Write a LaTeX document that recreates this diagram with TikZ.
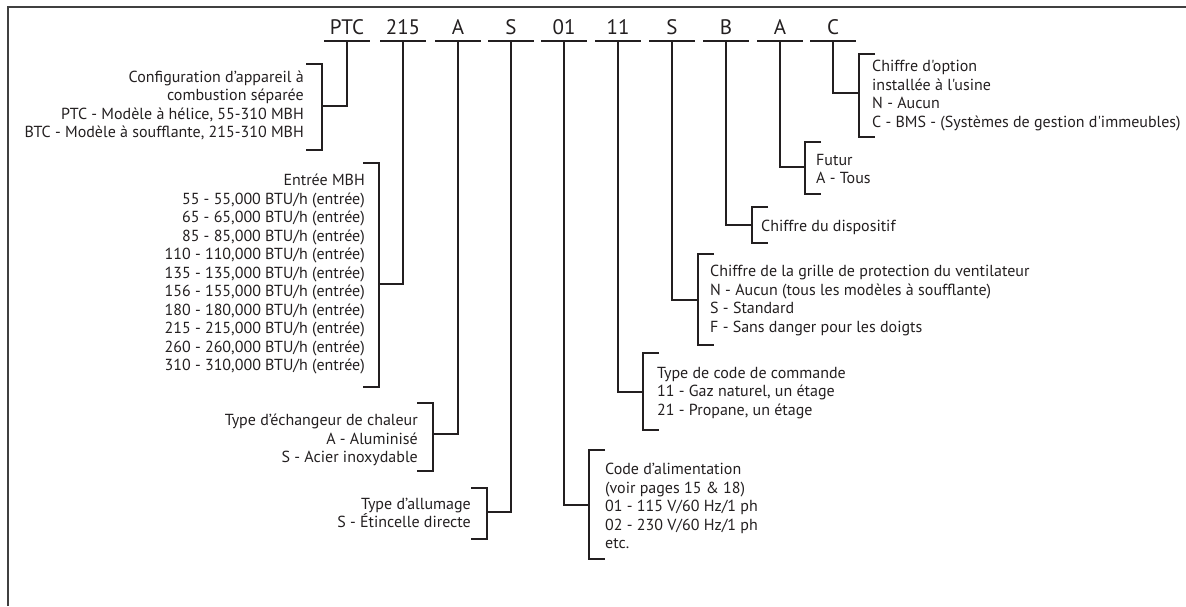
\documentclass[tikz,border=0pt]{standalone}
\usepackage{fontspec}
\setmainfont{PT Sans}[Ligatures=TeXOff]
\definecolor{ink}{RGB}{35,31,32}
\newcommand\brL[3]{\draw[brk] (#1-16,#2) -- (#1,#2) -- (#1,#3) -- (#1-16,#3);}
\newcommand\brR[3]{\draw[brk] (#1+16,#2) -- (#1,#2) -- (#1,#3) -- (#1+16,#3);}
\begin{document}
\begin{tikzpicture}[x=1pt,y=-1pt,
  brk/.style={draw=ink,line width=1.7pt},
  conn/.style={draw=ink,line width=1.7pt},
  code/.style={anchor=base,inner sep=0pt,text depth=0pt,minimum width=45pt,font=\fontsize{21}{24}\selectfont,text=ink},
  descl/.style={inner sep=0pt,align=left,anchor=west,font=\fontsize{16}{18.5}\selectfont,text=ink},
  descr/.style={inner sep=0pt,align=right,anchor=east,font=\fontsize{16}{18.5}\selectfont,text=ink},
  frame/.style={draw=black!75,line width=1.4pt}]
\useasboundingbox (0,0) rectangle (1186,606);
\draw[frame] (8,606) -- (8,7) -- (1186,7);

% code letters
\node[code] (c1) at (347,34) {PTC};
\node[code] (c2) at (403,34) {215};
\node[code] (c3) at (458,34) {A};
\node[code] (c4) at (511,34) {S};
\node[code] (c5) at (564,34) {01};
\node[code] (c6) at (618,34) {11};
\node[code] (c7) at (672,34) {S};
\node[code] (c8) at (726,34) {B};
\node[code] (c9) at (780,34) {A};
\node[code] (c10) at (833,34) {C};
\foreach \i in {1,...,10}{
  \draw[conn] ([yshift=-7pt]c\i.south west) -- ([yshift=-7pt]c\i.south east);
  \coordinate (u\i) at ([yshift=-7pt]c\i.south);
}

% descriptions
\node[descr] (d1) at (304,105.5) {Configuration d’appareil à\\combustion séparée\\PTC - Modèle à hélice, 55-310 MBH\\BTC - Modèle à soufflante, 215-310 MBH};
\node[descr] (d2) at (365,274) {Entrée MBH\\55 - 55,000 BTU/h (entrée)\\65 - 65,000 BTU/h (entrée)\\85 - 85,000 BTU/h (entrée)\\110 - 110,000 BTU/h (entrée)\\135 - 135,000 BTU/h (entrée)\\156 - 155,000 BTU/h (entrée)\\180 - 180,000 BTU/h (entrée)\\215 - 215,000 BTU/h (entrée)\\260 - 260,000 BTU/h (entrée)\\310 - 310,000 BTU/h (entrée)};
\node[descr] (d3) at (418,440) {Type d’échangeur de chaleur\\A - Aluminisé\\S - Acier inoxydable};
\node[descr] (d4) at (471,513) {Type d’allumage\\S - Étincelle directe};
\node[descl] (d5) at (605,506) {Code d’alimentation\\(voir pages 15 \& 18)\\01 - 115 V/60 Hz/1 ph\\02 - 230 V/60 Hz/1 ph\\etc.};
\node[descl] (d6) at (657,393) {Type de code de commande\\11 - Gaz naturel, un étage\\21 - Propane, un étage};
\node[descl] (d7) at (710,300.5) {Chiffre de la grille de protection du ventilateur\\N - Aucun (tous les modèles à soufflante)\\S - Standard\\F - Sans danger pour les doigts};
\node[descl] (d8) at (761,227) {Chiffre du dispositif};
\node[descl] (d9) at (816,169) {Futur\\A - Tous};
\node[descl] (d10) at (872,95.5) {Chiffre d'option\\installée à l'usine\\N - Aucun\\C - BMS - (Systèmes de gestion d'immeubles)};

% brackets
\brL{322}{64}{150}
\brL{379}{163}{387}
\brL{433}{403}{471}
\brL{487}{488}{539}
\brR{589}{450}{559}
\brR{643}{353}{430}
\brR{698}{254}{345}
\brR{752}{207}{243}
\brR{805}{142}{194}
\brR{859}{54}{137}

% join points
\coordinate (j1) at (322,106);
\coordinate (j2) at (379,284);
\coordinate (j3) at (433,434);
\coordinate (j4) at (487,512);
\coordinate (j5) at (589,505);
\coordinate (j6) at (643,392);
\coordinate (j7) at (698,300);
\coordinate (j8) at (752,225);
\coordinate (j9) at (805,167);
\coordinate (j10) at (859,93);
\foreach \i in {1,...,10}{
  \draw[conn] (u\i) |- (j\i);
}
\end{tikzpicture}
\end{document}
